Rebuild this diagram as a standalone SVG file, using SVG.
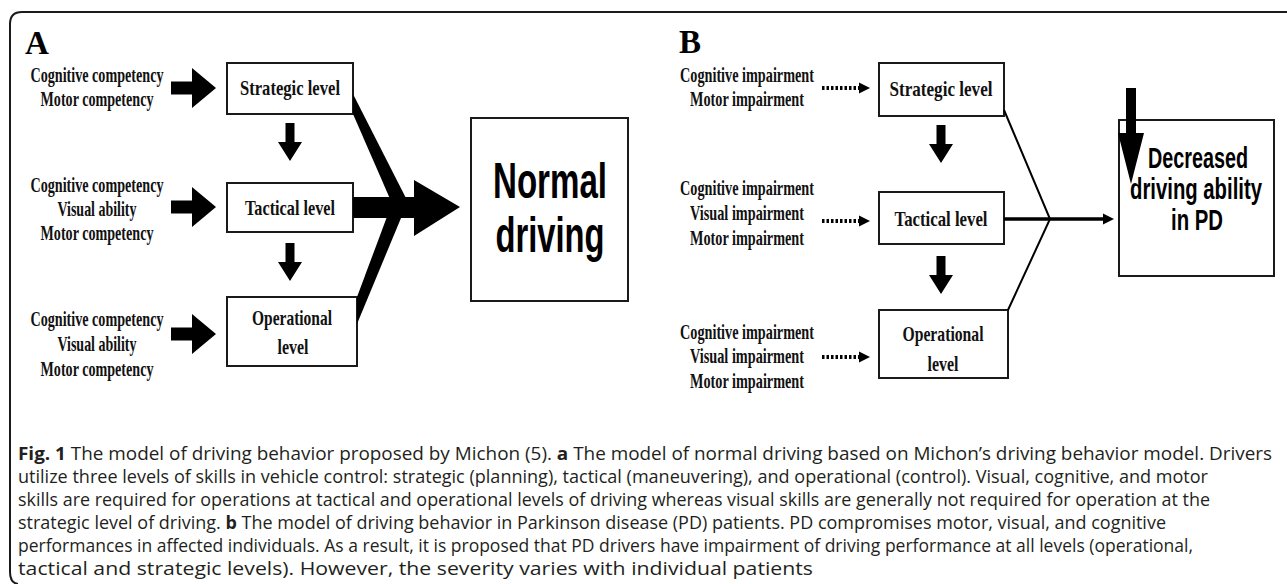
<svg xmlns="http://www.w3.org/2000/svg" width="1287" height="584" viewBox="0 0 1287 584">
<style>
.frame{fill:none;stroke:#1a1a1a;stroke-width:2}
.box{fill:#fff;stroke:#1a1a1a;stroke-width:2}
.lbl{font-family:"Liberation Serif","Times New Roman",serif;font-weight:bold;font-size:22px;fill:#111;text-anchor:middle}
.big{font-family:"Liberation Sans",Arial,sans-serif;font-weight:bold;fill:#000;text-anchor:middle}
.panel{font-family:"Liberation Serif","Times New Roman",serif;font-weight:bold;font-size:33px;fill:#000}
.cap{font-family:"Open Sans","Noto Sans",sans-serif;font-size:17.5px;fill:#231f20}
.b{font-weight:bold}
.solid{fill:#000}
.thin{stroke:#000;stroke-width:2;fill:none}
.thick{stroke:#000;stroke-width:3.5;fill:none}
.dot{stroke:#000;stroke-width:4;stroke-dasharray:2.5 2;fill:none}
</style>
<defs>
<marker id="tri" viewBox="0 0 10 10" refX="0" refY="5" markerWidth="11" markerHeight="15" markerUnits="userSpaceOnUse" orient="auto"><path d="M0,0 L10,5 L0,10 Z" fill="#000"/></marker>
<path id="arrR" d="M0,-6.5 H21 V-20 L45,0 L21,20 V6.5 H0 Z"/>
<path id="arrD" d="M-4.5,0 H4.5 V19 H12 L0,38 L-12,19 H-4.5 Z"/>
</defs>
<rect width="1287" height="584" fill="#fff"/>
<path class="frame" d="M1287,12 H22 Q10,12 10,24 V572 Q10,583 18,584"/>

<text class="panel" x="25" y="54">A</text>
<text class="panel" x="679" y="53">B</text>

<!-- Panel A nodes -->
<g id="a-in1">
<text class="lbl" x="97" y="82" textLength="133" lengthAdjust="spacingAndGlyphs">Cognitive competency</text>
<text class="lbl" x="97" y="106" textLength="113" lengthAdjust="spacingAndGlyphs">Motor competency</text>
</g>
<g id="a-in2">
<text class="lbl" x="97" y="192" textLength="133" lengthAdjust="spacingAndGlyphs">Cognitive competency</text>
<text class="lbl" x="97" y="216" textLength="79" lengthAdjust="spacingAndGlyphs">Visual ability</text>
<text class="lbl" x="97" y="240" textLength="113" lengthAdjust="spacingAndGlyphs">Motor competency</text>
</g>
<g id="a-in3">
<text class="lbl" x="97" y="326" textLength="133" lengthAdjust="spacingAndGlyphs">Cognitive competency</text>
<text class="lbl" x="97" y="351" textLength="79" lengthAdjust="spacingAndGlyphs">Visual ability</text>
<text class="lbl" x="97" y="376" textLength="113" lengthAdjust="spacingAndGlyphs">Motor competency</text>
</g>
<g id="a-strategic">
<rect class="box" x="227" y="63" width="126" height="51"/>
<text class="lbl" x="290" y="95" textLength="100" lengthAdjust="spacingAndGlyphs">Strategic level</text>
</g>
<g id="a-tactical">
<rect class="box" x="227" y="183" width="126" height="49"/>
<text class="lbl" x="290" y="215" textLength="90" lengthAdjust="spacingAndGlyphs">Tactical level</text>
</g>
<g id="a-operational">
<rect class="box" x="227" y="297" width="130" height="69"/>
<text class="lbl" x="292" y="325" textLength="80" lengthAdjust="spacingAndGlyphs">Operational</text>
<text class="lbl" x="293" y="354" textLength="31" lengthAdjust="spacingAndGlyphs">level</text>
</g>
<g id="a-normal">
<rect class="box" x="471" y="118" width="157" height="183"/>
<text class="big" x="550" y="198" font-size="50" textLength="114" lengthAdjust="spacingAndGlyphs">Normal</text>
<text class="big" x="550" y="252" font-size="50" textLength="109" lengthAdjust="spacingAndGlyphs">driving</text>
</g>

<!-- Panel B nodes -->
<g id="b-in1">
<text class="lbl" x="747" y="82" textLength="134" lengthAdjust="spacingAndGlyphs">Cognitive impairment</text>
<text class="lbl" x="747" y="106" textLength="114" lengthAdjust="spacingAndGlyphs">Motor impairment</text>
</g>
<g id="b-in2">
<text class="lbl" x="747" y="195" textLength="134" lengthAdjust="spacingAndGlyphs">Cognitive impairment</text>
<text class="lbl" x="747" y="220" textLength="114" lengthAdjust="spacingAndGlyphs">Visual impairment</text>
<text class="lbl" x="747" y="245" textLength="114" lengthAdjust="spacingAndGlyphs">Motor impairment</text>
</g>
<g id="b-in3">
<text class="lbl" x="747" y="339" textLength="134" lengthAdjust="spacingAndGlyphs">Cognitive impairment</text>
<text class="lbl" x="747" y="363" textLength="114" lengthAdjust="spacingAndGlyphs">Visual impairment</text>
<text class="lbl" x="747" y="388" textLength="114" lengthAdjust="spacingAndGlyphs">Motor impairment</text>
</g>
<g id="b-strategic">
<rect class="box" x="879" y="63" width="125" height="53"/>
<text class="lbl" x="941" y="96" textLength="103" lengthAdjust="spacingAndGlyphs">Strategic level</text>
</g>
<g id="b-tactical">
<rect class="box" x="879" y="192" width="125" height="52"/>
<text class="lbl" x="941" y="226" textLength="93" lengthAdjust="spacingAndGlyphs">Tactical level</text>
</g>
<g id="b-operational">
<rect class="box" x="879" y="310" width="129" height="68"/>
<text class="lbl" x="943" y="341" textLength="81" lengthAdjust="spacingAndGlyphs">Operational</text>
<text class="lbl" x="943" y="371" textLength="31" lengthAdjust="spacingAndGlyphs">level</text>
</g>
<g id="b-decreased">
<rect class="box" x="1119" y="120" width="155" height="156"/>
<text class="big" x="1198" y="168" font-size="30" textLength="100" lengthAdjust="spacingAndGlyphs">Decreased</text>
<text class="big" x="1196" y="199" font-size="30" textLength="132" lengthAdjust="spacingAndGlyphs">driving ability</text>
<text class="big" x="1197" y="230" font-size="30" textLength="52" lengthAdjust="spacingAndGlyphs">in PD</text>
</g>

<!-- Connectors -->
<g id="connectors">
<use href="#arrR" x="171" y="88"/>
<use href="#arrR" x="171" y="207"/>
<use href="#arrR" x="171" y="334"/>
<use href="#arrD" x="290" y="123"/>
<use href="#arrD" x="290" y="243"/>
<path class="solid" d="M353,94 L411,208 L394,208 L353,114 Z"/>
<path class="solid" d="M357,297 L391,206 L406,206 L357,324 Z"/>
<path class="solid" d="M353,197 H414 V180 L460,207 L414,236 V218 H353 Z"/>

<path class="dot" d="M822,88 H859" marker-end="url(#tri)"/>
<path class="dot" d="M822,221 H859" marker-end="url(#tri)"/>
<path class="dot" d="M822,357 H859" marker-end="url(#tri)"/>
<use href="#arrD" x="941" y="125"/>
<use href="#arrD" x="941" y="256"/>
<path class="thin" d="M1004,110 L1050,219 L1008,310"/>
<path class="thick" d="M1004,219 H1103" marker-end="url(#tri)"/>
<path class="solid" d="M1126,88 H1136 V133 H1144 L1131,184 L1118,133 H1126 Z"/>
</g>

<!-- Caption -->
<g id="caption">
<text class="cap" x="18" y="460" textLength="1254" lengthAdjust="spacingAndGlyphs"><tspan class="b">Fig. 1</tspan> The model of driving behavior proposed by Michon (5). <tspan class="b">a</tspan> The model of normal driving based on Michon’s driving behavior model. Drivers</text>
<text class="cap" x="18" y="483" textLength="1190" lengthAdjust="spacingAndGlyphs">utilize three levels of skills in vehicle control: strategic (planning), tactical (maneuvering), and operational (control). Visual, cognitive, and motor</text>
<text class="cap" x="18" y="506" textLength="1192" lengthAdjust="spacingAndGlyphs">skills are required for operations at tactical and operational levels of driving whereas visual skills are generally not required for operation at the</text>
<text class="cap" x="18" y="529" textLength="1148" lengthAdjust="spacingAndGlyphs">strategic level of driving. <tspan class="b">b</tspan> The model of driving behavior in Parkinson disease (PD) patients. PD compromises motor, visual, and cognitive</text>
<text class="cap" x="18" y="552" textLength="1175" lengthAdjust="spacingAndGlyphs">performances in affected individuals. As a result, it is proposed that PD drivers have impairment of driving performance at all levels (operational,</text>
<text class="cap" x="18" y="575" textLength="795" lengthAdjust="spacingAndGlyphs">tactical and strategic levels). However, the severity varies with individual patients</text>
</g>
</svg>
